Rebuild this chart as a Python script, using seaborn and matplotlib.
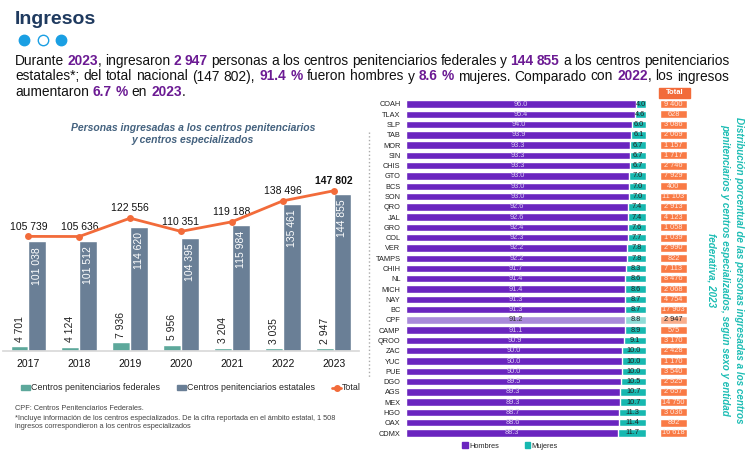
import matplotlib.pyplot as plt
import matplotlib.lines as mlines
import matplotlib.patches as mpatches
import numpy as np
import pandas as pd
import seaborn as sns

# Left chart data
years = ['2017', '2018', '2019', '2020', '2021', '2022', '2023']
federales = [4701, 4124, 7936, 5956, 3204, 3035, 2947]
estatales = [101038, 101512, 114620, 104395, 115984, 135461, 144855]
totales = [105739, 105636, 122556, 110351, 119188, 138496, 147802]

# Right chart data
estados = ['COAH', 'TLAX', 'SLP', 'TAB', 'MOR', 'SIN', 'CHIS', 'GTO', 'BCS', 'SON', 'QRO',
           'JAL', 'GRO', 'COL', 'VER', 'TAMPS', 'CHIH', 'NL', 'MICH', 'NAY', 'BC', 'CPF',
           'CAMP', 'QROO', 'ZAC', 'YUC', 'PUE', 'DGO', 'AGS', 'MEX', 'HGO', 'OAX', 'CDMX']
hombres = [96.0, 95.4, 94.0, 93.9, 93.3, 93.3, 93.3, 93.0, 93.0, 93.0, 92.6,
           92.6, 92.4, 92.3, 92.2, 92.2, 91.7, 91.4, 91.4, 91.3, 91.3, 91.2,
           91.1, 90.9, 90.0, 90.0, 90.0, 89.5, 89.3, 89.3, 88.7, 88.6, 88.3]
mujeres = [4.0, 4.6, 6.0, 6.1, 6.7, 6.7, 6.7, 7.0, 7.0, 7.0, 7.4,
           7.4, 7.6, 7.7, 7.8, 7.8, 8.3, 8.6, 8.6, 8.7, 8.7, 8.8,
           8.9, 9.1, 10.0, 10.0, 10.0, 10.5, 10.7, 10.7, 11.3, 11.4, 11.7]
total_estado = [9400, 628, 3086, 2069, 1157, 1717, 2746, 7929, 400, 11103, 2913,
                4123, 1058, 1039, 2990, 822, 7113, 8476, 2068, 4754, 17903, 2947,
                575, 3170, 2428, 1170, 3540, 2525, 2657, 14750, 3036, 892, 16618]

GREEN = '#5DA89B'
SLATE = '#6A7F96'
ORANGE = '#F26B3A'
PURPLE = '#6A25BF'
TEAL = '#17B8B0'
BOX = '#F97A45'
TXT_PURPLE = '#6B1A93'

sns.set_theme(style='white')
plt.rcParams['font.family'] = ['Liberation Sans', 'DejaVu Sans']

fig = plt.figure(figsize=(7.5, 4.5), dpi=100)
W, H = 750, 450


def fmt(v):
    return f'{v:,}'.replace(',', ' ')


# Header
fig.text(15 / W, 1 - 20 / H, 'Ingresos', fontsize=14, fontweight='bold', color='#1F3A5F',
         ha='left', va='center')
for k, xp in enumerate([24, 43, 61]):
    filled = k != 1
    fig.add_artist(mlines.Line2D([xp / W], [1 - 40 / H], marker='o', markersize=7.5,
                                 markerfacecolor='#1A9FE3' if filled else 'white',
                                 markeredgecolor='#1A9FE3', markeredgewidth=1,
                                 transform=fig.transFigure))

# Justified paragraph with coloured pieces
lines = [
    [('Durante ', False), ('2023', True), (', ingresaron ', False), ('2 947', True),
     (' personas a los centros penitenciarios federales y ', False), ('144 855', True),
     (' a los centros penitenciarios', False)],
    [('estatales*; del total nacional (147 802), ', False), ('91.4 %', True),
     (' fueron hombres y ', False), ('8.6 %', True), (' mujeres. Comparado con ', False),
     ('2022', True), (', los ingresos', False)],
    [('aumentaron ', False), ('6.7 %', True), (' en ', False), ('2023', True), ('.', False)],
]
renderer = fig.canvas.get_renderer()
PSIZE = 9.9


def width_of(s, bold):
    # advance width: measured between guard characters so side bearings count
    wt = 'bold' if bold else 'normal'
    t1 = fig.text(0, 0, '|' + s + '|', fontsize=PSIZE, fontweight=wt)
    t2 = fig.text(0, 0, '||', fontsize=PSIZE, fontweight=wt)
    res = t1.get_window_extent(renderer).width - t2.get_window_extent(renderer).width
    t1.remove()
    t2.remove()
    return res


space_w = width_of(' ', False)
left_px, right_px = 15, 729
for li, segs in enumerate(lines):
    words = [[]]
    for text, b in segs:
        parts = text.split(' ')
        for i, p in enumerate(parts):
            if i > 0:
                words.append([])
            if p:
                words[-1].append((p, b))
    words = [w for w in words if w]
    widths = [[width_of(p, b) for p, b in w] for w in words]
    total = sum(sum(w) for w in widths)
    if li < len(lines) - 1:
        gap = (right_px - left_px - total) / (len(words) - 1)
    else:
        gap = space_w
    x = left_px
    y = 1 - (61 + li * 15.5) / H
    for w, ws in zip(words, widths):
        for (p, b), pw in zip(w, ws):
            fig.text(x / W, y, p, fontsize=PSIZE, fontweight='bold' if b else 'normal',
                     color=TXT_PURPLE if b else '#111111', ha='left', va='center')
            x += pw
        x += gap

# Left chart
df = pd.DataFrame({
    'year': years * 2,
    'valor': federales + estatales,
    'tipo': ['Centros penitenciarios federales'] * len(years)
            + ['Centros penitenciarios estatales'] * len(years),
})
ax1 = fig.add_axes([3 / W, 1 - 351 / H, 356 / W, 181 / H])
sns.barplot(data=df, x='year', y='valor', hue='tipo', palette=[GREEN, SLATE], width=0.7,
            saturation=1, legend=False, ax=ax1)
ax1.plot(np.arange(len(years)), totales, color=ORANGE, lw=2, marker='o', markersize=5,
         markeredgewidth=0, zorder=5)
ax1.set_xlim(-0.5, len(years) - 0.5)
ax1.set_ylim(0, 167000)

for rect, v in zip(ax1.containers[0], federales):
    ax1.annotate(fmt(v), (rect.get_x() + rect.get_width() / 2, rect.get_height()),
                 xytext=(0, 3), textcoords='offset points', rotation=90, ha='center',
                 va='bottom', fontsize=7.5, color='#222222')
for rect, v in zip(ax1.containers[1], estatales):
    ax1.annotate(fmt(v), (rect.get_x() + rect.get_width() / 2, rect.get_height()),
                 xytext=(0, -4), textcoords='offset points', rotation=90, ha='center',
                 va='top', fontsize=7.5, color='white')
for i, v in enumerate(totales):
    ax1.annotate(fmt(v), (i, v), xytext=(0, 3.5), textcoords='offset points', ha='center',
                 va='bottom', fontsize=7.5, color='#111111',
                 fontweight='bold' if i == len(totales) - 1 else 'normal')

sns.despine(ax=ax1, left=True)
ax1.spines['bottom'].set_color('#D9D9D9')
ax1.set_yticks([])
ax1.set_xlabel('')
ax1.set_ylabel('')
ax1.tick_params(axis='x', length=0, pad=6, labelsize=7.5, labelcolor='#111111')

fig.text(193 / W, 1 - 134 / H,
         'Personas ingresadas a los centros penitenciarios\ny centros especializados',
         ha='center', va='center', fontsize=7.5, fontweight='bold', style='italic',
         color='#44627F', linespacing=1.3)

handles = [mpatches.Patch(color=GREEN, label='Centros penitenciarios federales'),
           mpatches.Patch(color=SLATE, label='Centros penitenciarios estatales'),
           mlines.Line2D([], [], color=ORANGE, lw=2, marker='o', markersize=4,
                         label='Total')]
ax1.legend(handles=handles, ncol=3, loc='center', bbox_to_anchor=(191 / W, 1 - 388 / H),
           bbox_transform=fig.transFigure, frameon=False, fontsize=6.4, handlelength=1.0,
           handleheight=0.6, handletextpad=0.15, columnspacing=1.9, borderpad=0)

fig.text(15 / W, 1 - 409 / H, 'CPF: Centros Penitenciarios Federales.', fontsize=5.3,
         color='#444444', va='center')
fig.text(15 / W, 1 - 418 / H,
         '*Incluye información de los centros especializados. De la cifra reportada en el '
         'ámbito estatal, 1 508', fontsize=5.3, color='#444444', va='center')
fig.text(15 / W, 1 - 426 / H, 'ingresos correspondieron a los centros especializados',
         fontsize=5.3, color='#444444', va='center')

fig.add_artist(mlines.Line2D([369 / W, 369 / W], [1 - 132 / H, 1 - 378 / H], ls=':',
                             lw=1, color='#AAAAAA', transform=fig.transFigure))

# Right chart
n = len(estados)
is_cpf = [e == 'CPF' for e in estados]
suma = [h + m for h, m in zip(hombres, mujeres)]
pal_teal = ['#8FDCD7' if c else TEAL for c in is_cpf]
pal_purple = ['#A98ADA' if c else PURPLE for c in is_cpf]
pal_box = ['#F9AE8C' if c else BOX for c in is_cpf]

row_h = (433 - 104) / (n - 1)
top_px = 104 - row_h / 2
bot_px = 433 + row_h / 2
ax2 = fig.add_axes([406 / W, 1 - bot_px / H, 240 / W, (bot_px - top_px) / H])
sns.barplot(x=suma, y=estados, hue=estados, palette=pal_teal, orient='h', width=0.72,
            saturation=1, legend=False, ax=ax2)
sns.barplot(x=hombres, y=estados, hue=estados, palette=pal_purple, orient='h', width=0.72,
            saturation=1, legend=False, ax=ax2)
ax2.set_xlim(0, 100)
ax2.set_ylim(n - 0.5, -0.5)
for i, (h, m, c) in enumerate(zip(hombres, mujeres, is_cpf)):
    ax2.text(h / 2, i, f'{h:.1f}', ha='center', va='center', fontsize=5.3,
             color='#333333' if c else '#D9CCF2')
    ax2.text(h + m / 2, i, f'{m:.1f}', ha='center', va='center', fontsize=5.3,
             color='#222222')
sns.despine(ax=ax2, left=True, bottom=True)
ax2.set_xticks([])
ax2.set_xlabel('')
ax2.set_ylabel('')
ax2.tick_params(axis='y', length=0, pad=4, labelsize=5.3, labelcolor='#222222')

ax2.legend(handles=[mpatches.Patch(color=PURPLE, label='Hombres'),
                    mpatches.Patch(color=TEAL, label='Mujeres')],
           ncol=2, loc='center', bbox_to_anchor=(510 / W, 1 - 446 / H),
           bbox_transform=fig.transFigure, frameon=False, fontsize=5.3, handlelength=0.7,
           handleheight=0.7, handletextpad=0.2, columnspacing=3.5)

ax3 = fig.add_axes([660 / W, 1 - bot_px / H, 27 / W, (bot_px - top_px) / H])
ax3.barh(np.arange(n), 1, height=0.78, color=pal_box, left=0)
for i, (v, c) in enumerate(zip(total_estado, is_cpf)):
    ax3.text(0.5, i, fmt(v), ha='center', va='center', fontsize=5.3,
             color='#222222' if c else '#FFE9DF')
ax3.add_patch(mpatches.Rectangle((-0.02, -1.55), 1.12, 0.95, color=ORANGE, clip_on=False))
ax3.text(0.54, -1.07, 'Total', ha='center', va='center', fontsize=5.5, fontweight='bold',
         color='white')
ax3.set_xlim(0, 1)
ax3.set_ylim(n - 0.5, -0.5)
ax3.axis('off')

fig.text(725 / W, 1 - 270 / H,
         'Distribución porcentual de las personas ingresadas a los centros\n'
         'penitenciarios y centros especializados, según sexo y entidad\n'
         'federativa, 2023',
         rotation=-90, ha='center', va='center', multialignment='center', fontsize=7.1,
         fontweight='bold', style='italic', color='#1DBDB4', linespacing=1.45)

fig.savefig('out.png', dpi=100)
